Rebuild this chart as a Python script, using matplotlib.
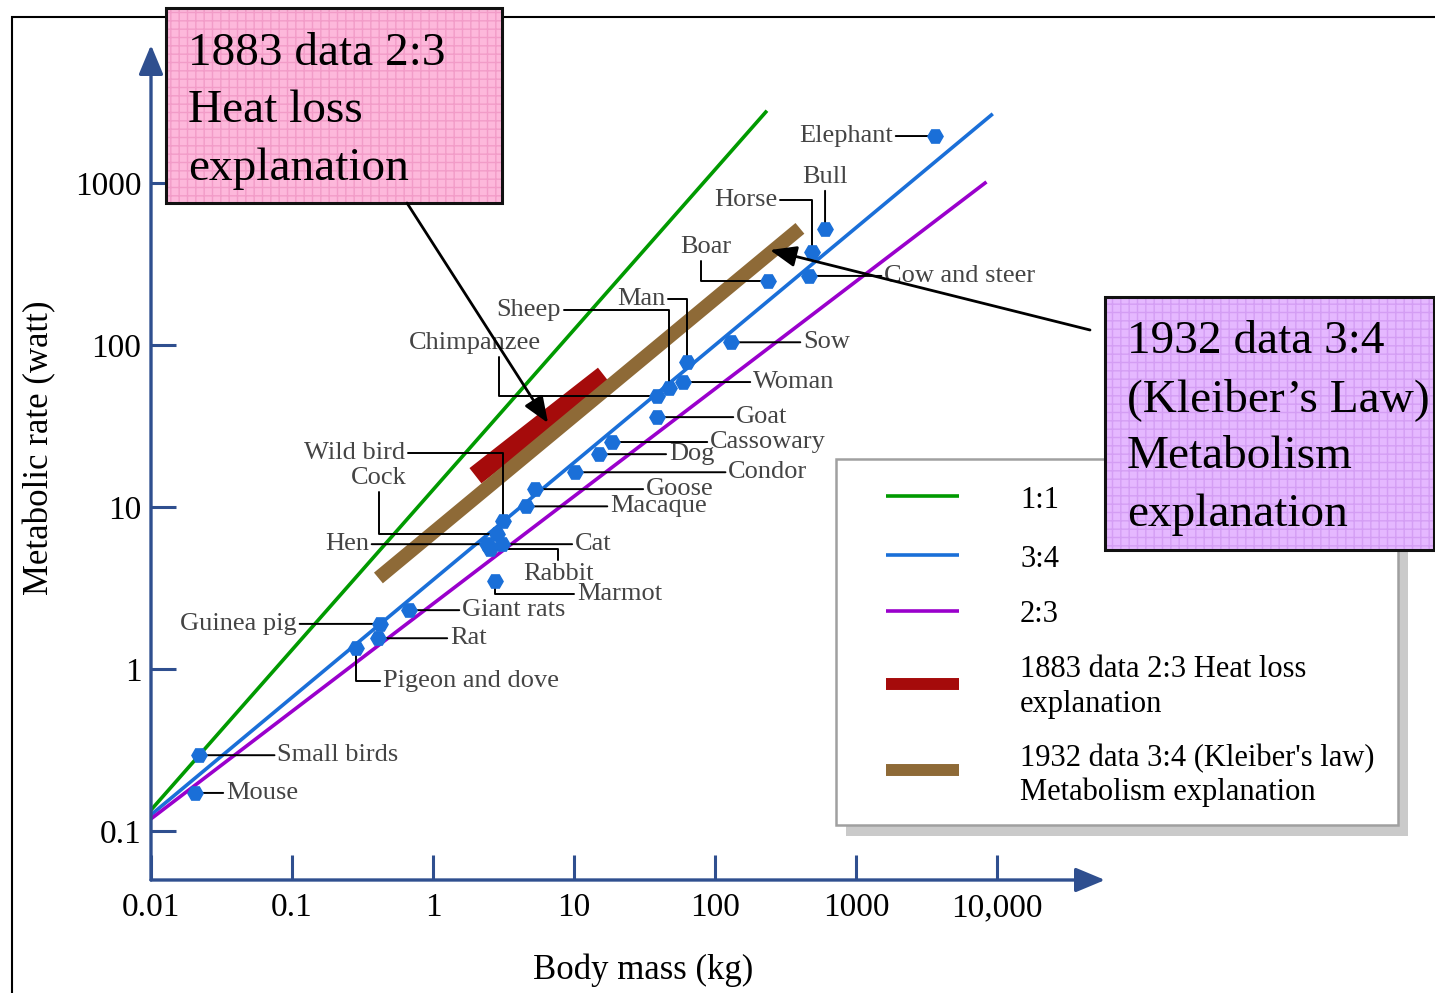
import matplotlib.pyplot as plt
from matplotlib.patches import Rectangle, FancyArrowPatch
from matplotlib.lines import Line2D
from matplotlib.ticker import NullLocator

plt.rcParams['font.family'] = ['Liberation Serif', 'DejaVu Serif']

W, H = 1435, 993

# animals: body mass (kg), metabolic rate (watt)
animals = ["Mouse", "Small birds", "Pigeon and dove", "Rat", "Guinea pig", "Giant rats",
           "Marmot", "Hen", "Rabbit", "Cat", "Cock", "Wild bird", "Macaque", "Goose",
           "Condor", "Dog", "Cassowary", "Goat", "Chimpanzee", "Sheep", "Woman", "Man",
           "Sow", "Boar", "Cow and steer", "Horse", "Bull", "Elephant"]
mass = [0.0205, 0.022, 0.284, 0.407, 0.42, 0.676, 2.75, 2.41, 2.54, 3.08, 2.84, 3.13,
        4.57, 5.28, 10.2, 15.0, 18.6, 38.8, 38.8, 47.2, 59.3, 63.2, 130, 238, 465, 488,
        603, 3630]
rate = [0.172, 0.294, 1.35, 1.55, 1.90, 2.31, 3.49, 5.9, 5.5, 5.9, 6.8, 8.2, 10.1,
        12.9, 16.4, 21.2, 25.2, 35.9, 48.5, 54.3, 59.1, 78.5, 104, 248, 267, 375, 520,
        1950]

# reference lines (end points)
mass_1to1 = [0.01, 229]
rate_1to1 = [0.135, 2742]
mass_3to4 = [0.01, 9120]
rate_3to4 = [0.126, 2630]
mass_2to3 = [0.01, 8220]
rate_2to3 = [0.119, 1000]
mass_1883 = [2.0, 16.3]
rate_1883 = [15.6, 65]
mass_1932 = [0.41, 400]
rate_1932 = [3.65, 525]

x_ticks = [0.01, 0.1, 1, 10, 100, 1000, 10000]
x_ticklabels = ["0.01", "0.1", "1", "10", "100", "1000", "10,000"]
y_ticks = [0.1, 1, 10, 100, 1000]
y_ticklabels = ["0.1", "1", "10", "100", "1000"]

legend_labels = ["1:1", "3:4", "2:3",
                 "1883 data 2:3 Heat loss\nexplanation",
                 "1932 data 3:4 (Kleiber's law)\nMetabolism explanation"]
box_1883 = ["1883 data 2:3", "Heat loss", "explanation"]
box_1932 = ["1932 data 3:4", "(Kleiber\u2019s Law)", "Metabolism", "explanation"]

GREEN, BLUE, PURPLE = '#009A00', '#1A6FD8', '#9A00CC'
RED, BROWN = '#A50B0B', '#8E6A37'
AXIS = '#2F4F8F'

# label layout: offset in pixels (dx, dy down), alignment, leader style, start point on text
label_layout = {
    "Mouse": (31, 0, 'left', 'h', 0.5),
    "Small birds": (78, 0, 'left', 'h', 0.5),
    "Pigeon and dove": (27, 33, 'left', 'hv', 0.5),
    "Rat": (72, 0, 'left', 'h', 0.5),
    "Guinea pig": (-83, 0, 'right', 'h', 0.5),
    "Giant rats": (53, 0, 'left', 'h', 0.5),
    "Marmot": (82, 13, 'left', 'hv', 0.5),
    "Hen": (-118, 0, 'right', 'h', 0.5),
    "Rabbit": (33, 25, 'left', 'vh', 0.5),
    "Cat": (73, 0, 'left', 'h', 0.5),
    "Cock": (-146, -56, 'left', 'vh', 0.5),
    "Wild bird": (-98, -68, 'right', 'hv', 0.5),
    "Macaque": (84, 0, 'left', 'h', 0.5),
    "Goose": (111, 0, 'left', 'h', 0.5),
    "Condor": (153, 0, 'left', 'h', 0.5),
    "Dog": (70, 0, 'left', 'h', 0.5),
    "Cassowary": (98, 0, 'left', 'h', 0.5),
    "Goat": (79, 0, 'left', 'h', 0.5),
    "Chimpanzee": (-248, -53, 'left', 'vh', 0.68),
    "Sheep": (-108, -78, 'right', 'hv', 0.5),
    "Woman": (70, 0, 'left', 'h', 0.5),
    "Man": (-70, -63, 'left', 'hv', 0.5),
    "Sow": (72, 0, 'left', 'h', 0.5),
    "Boar": (-88, -34, 'left', 'vh', 0.4),
    "Cow and steer": (75, 0, 'left', 'h', 0.5),
    "Horse": (-35, -52, 'right', 'hv', 0.5),
    "Bull": (0, -52, 'center', 'h', 0.5),
    "Elephant": (-42, 0, 'right', 'h', 0.5),
}


def fx(x):
    return x / W


def fy(y):
    return 1 - y / H


fig = plt.figure(figsize=(W / 100, H / 100), dpi=100)
ax = fig.add_axes([fx(151), fy(880), fx(1105) - fx(151), fy(45) - fy(880)])
ax.set_xscale('log')
ax.set_yscale('log')
ax.set_xlim(0.01, 58300)
ax.set_ylim(0.0499, 7110)
ax.patch.set_alpha(0)
for s in ax.spines.values():
    s.set_visible(False)

ax.set_xticks(x_ticks)
ax.set_xticklabels(x_ticklabels)
ax.set_yticks(y_ticks)
ax.set_yticklabels(y_ticklabels)
ax.xaxis.set_minor_locator(NullLocator())
ax.yaxis.set_minor_locator(NullLocator())
ax.tick_params(axis='both', direction='in', length=18, width=2.2, color=AXIS,
               labelsize=24)
ax.tick_params(axis='x', pad=9)
ax.tick_params(axis='y', pad=7)

# axis lines with arrow heads
for tip in [(0, 1), (1, 0)]:
    ax.annotate('', xy=tip, xytext=(0, 0), xycoords='axes fraction',
                arrowprops=dict(arrowstyle='-|>,head_length=0.6,head_width=0.25',
                                mutation_scale=30, color=AXIS, lw=2.4,
                                shrinkA=0, shrinkB=0), annotation_clip=False)

ax.plot(mass_1to1, rate_1to1, color=GREEN, lw=2.6, zorder=2)
ax.plot(mass_3to4, rate_3to4, color=BLUE, lw=2.6, zorder=2)
ax.plot(mass_2to3, rate_2to3, color=PURPLE, lw=2.6, zorder=2)
ax.plot(mass_1883, rate_1883, color=RED, lw=14, solid_capstyle='butt', zorder=3)
ax.plot(mass_1932, rate_1932, color=BROWN, lw=10, solid_capstyle='butt', zorder=3)

for name, m, r in zip(animals, mass, rate):
    dx, dy, ha, style, rx = label_layout[name]
    if style == 'hv':
        conn = 'angle,angleA=0,angleB=90,rad=0'
    elif style == 'vh':
        conn = 'angle,angleA=90,angleB=0,rad=0'
    else:
        conn = 'arc3'
    ax.annotate(name, xy=(m, r), xytext=(dx, -dy), textcoords='offset pixels',
                ha=ha, va='center', fontsize=19, color='#444444', zorder=4,
                arrowprops=dict(arrowstyle='-', color='black', lw=1.4, shrinkA=0,
                                shrinkB=0, connectionstyle=conn, relpos=(rx, 0.5)))

ax.plot(mass, rate, linestyle='none', marker='H', markersize=11, color=BLUE, zorder=5)

# axis titles
fig.text(fx(643), fy(970), "Body mass (kg)", ha='center', va='center', fontsize=25)
fig.text(fx(40), fy(448), "Metabolic rate (watt)", ha='center', va='center',
         fontsize=25, rotation=90)


def fig_rect(x0, y0, x1, y1, **kw):
    r = Rectangle((fx(x0), fy(y1)), fx(x1) - fx(x0), fy(y0) - fy(y1),
                  transform=fig.transFigure, **kw)
    fig.add_artist(r)
    return r


# outer frame
fig_rect(12, 17, 1450, 1010, fill=False, ec='black', lw=1.5, zorder=1)

# legend
fig_rect(846, 469, 1408, 836, fc='#CACACA', ec='none', zorder=5)
fig_rect(836, 459, 1398, 825, fc='white', ec='#A0A0A0', lw=1.8, zorder=6)
handle_colors = [GREEN, BLUE, PURPLE, RED, BROWN]
handle_widths = [2.6, 2.6, 2.6, 8.6, 8.6]
handle_y = [496, 555, 611, 684, 770]
label_baselines = [[508], [567], [622], [677, 712], [766, 800]]
for lab, c, lw, hy, bl in zip(legend_labels, handle_colors, handle_widths, handle_y,
                              label_baselines):
    fig.add_artist(Line2D([fx(886), fx(959)], [fy(hy), fy(hy)], color=c, lw=lw,
                          solid_capstyle='butt', transform=fig.transFigure, zorder=7))
    for line, b in zip(lab.split('\n'), bl):
        fig.text(fx(1020), fy(b), line, ha='left', va='baseline', fontsize=22,
                 zorder=7)

# annotation boxes
fig_rect(166, 8, 502, 203, fc='#FDB8DB', ec='#F29CC8', lw=0, hatch='++', zorder=8)
fig_rect(166, 8, 502, 203, fill=False, ec='#111111', lw=2.2, zorder=9)
for line, b in zip(box_1883, [65, 122, 180]):
    fig.text(fx(188), fy(b), line, ha='left', va='baseline', fontsize=34, zorder=10)

fig_rect(1105, 297, 1434, 550, fc='#E5B8FF', ec='#D49EF4', lw=0, hatch='++', zorder=8)
fig_rect(1105, 297, 1434, 550, fill=False, ec='#111111', lw=2.2, zorder=9)
for line, b in zip(box_1932, [353, 411, 468, 526]):
    fig.text(fx(1127), fy(b), line, ha='left', va='baseline', fontsize=34, zorder=10)

# pointer arrows
for start, end in [((407, 203), (548, 423)), ((1090, 330), (770, 250))]:
    fig.add_artist(FancyArrowPatch((fx(start[0]), fy(start[1])), (fx(end[0]), fy(end[1])),
                                   transform=fig.transFigure,
                                   arrowstyle='-|>,head_length=0.5,head_width=0.2',
                                   mutation_scale=32, color='black', lw=2.0,
                                   shrinkA=0, shrinkB=0, zorder=11))

fig.savefig('out.png', dpi=100)
